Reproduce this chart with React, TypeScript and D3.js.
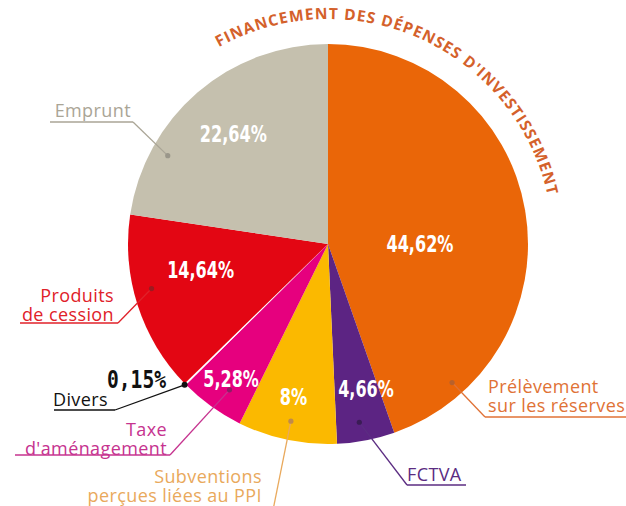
import * as d3 from 'd3';

const WIDTH = 626, HEIGHT = 506;
const CX = 328, CY = 244, RADIUS = 200;

const TITLE = "FINANCEMENT DES DÉPENSES D'INVESTISSEMENT";

const categories = [
    "Prélèvement sur les réserves",
    "FCTVA",
    "Subventions perçues liées au PPI",
    "Taxe d'aménagement",
    "Divers",
    "Produits de cession",
    "Emprunt",
];
const values = [44.62, 4.66, 8, 5.28, 0.15, 14.64, 22.64];
const valueLabels = ["44,62%", "4,66%", "8%", "5,28%", "0,15%", "14,64%", "22,64%"];

const sliceColors = ["#ea6608", "#5c2483", "#fbb900", "#e6007e", "#ffffff", "#e30613", "#c5c0ae"];
const textColors = ["#e07236", "#5b2c82", "#e9a95c", "#c6338f", "#111111", "#e02129", "#aaa596"];
const dotColors = ["#b8612c", "#3a1c55", "#c08a4a", "#8c1e66", "#111111", "#9c1a20", "#9a968a"];

// callout layout: text lines, anchor, x, first baseline, underline from/to, where the dot sits in the slice
const callouts = [
    { lines: ["Prélèvement", "sur les réserves"], anchor: "start", x: 488, y: 393, ux: [485, 626], uy: 417, t: 0.86, r: 186 },
    { lines: ["FCTVA"], anchor: "start", x: 407, y: 481, ux: [407, 466], uy: 485, t: 0.56, r: 181 },
    { lines: ["Subventions", "perçues liées au PPI"], anchor: "end", x: 262, y: 483, ux: null, uy: 520, t: 0.5, r: 181 },
    { lines: ["Taxe", "d'aménagement"], anchor: "end", x: 167, y: 436, ux: [15, 170], uy: 455, t: 0.41, r: 176 },
    { lines: ["Divers"], anchor: "end", x: 108, y: 406, ux: [54, 115], uy: 410, t: 0.5, r: 201 },
    { lines: ["Produits", "de cession"], anchor: "end", x: 114, y: 302, ux: [20, 118], uy: 323, t: 0.57, r: 182 },
    { lines: ["Emprunt"], anchor: "end", x: 131, y: 117, ux: [50, 133], uy: 122, t: 0.25, r: 183 },
];

// value label radius and angle tweak (fraction in slice)
const valuePos = [
    { r: 92, t: 0.56 }, { r: 150, t: 0.28 }, { r: 157, t: 0.53 }, { r: 166, t: 0.5 },
    null, { r: 130, t: 0.62 }, { r: 145, t: 0.5 },
];

const pie = d3.pie<number>().sort(null).value((d) => d);
const arc = d3.arc<d3.PieArcDatum<number>>().innerRadius(0).outerRadius(RADIUS);

const polar = (a: number, r: number): [number, number] => [CX + Math.sin(a) * r, CY - Math.cos(a) * r];

const pctWidth = (s: string) =>
    s.split('').reduce((w, c) => w + (c === ',' ? 5 : c === '%' ? 16 : 11.5), 0);

const App = () => {
    const slices = pie(values);

    const titleStart = (-29 * Math.PI) / 180;
    const titleEnd = (90 * Math.PI) / 180;
    const titleR = 225;
    const [sx, sy] = polar(titleStart, titleR);
    const [ex, ey] = polar(titleEnd, titleR);
    const titlePath = `M${sx},${sy} A${titleR},${titleR} 0 0 1 ${ex},${ey}`;

    return (
        <svg width={WIDTH} height={HEIGHT} style={{ position: 'absolute', left: 0, top: 0 }}>
            <defs>
                <path id="titleArc" d={titlePath} fill="none" />
            </defs>
            <g transform={`translate(${CX},${CY})`}>
                {slices.map((s, i) => (
                    <path key={i} d={arc(s) || ''} fill={sliceColors[i]} />
                ))}
            </g>

            <text fontFamily="'Open Sans', sans-serif" fontWeight={700} fontSize={15.5} fill="#d4612b">
                <textPath href="#titleArc" textLength={418} lengthAdjust="spacing">{TITLE}</textPath>
            </text>

            {slices.map((s, i) => {
                const c = callouts[i];
                const a = s.startAngle + (s.endAngle - s.startAngle) * c.t;
                const [dx, dy] = polar(a, c.r);
                const elbowX = c.ux ? (c.anchor === 'end' ? c.ux[1] : c.ux[0]) : 271;
                return (
                    <g key={categories[i]}>
                        {c.ux && <line x1={c.ux[0]} x2={c.ux[1]} y1={c.uy} y2={c.uy} stroke={textColors[i]} strokeWidth={1.3} />}
                        <line x1={elbowX} y1={c.uy} x2={dx} y2={dy} stroke={textColors[i]} strokeWidth={1.3} />
                        <circle cx={dx} cy={dy} r={i === 4 ? 3 : 2.6} fill={dotColors[i]} />
                        <text x={c.x} y={c.y} textAnchor={c.anchor} fontFamily="'Open Sans', sans-serif"
                            fontSize={18} letterSpacing={0.4} fill={textColors[i]}>
                            {c.lines.map((l, j) => (
                                <tspan key={j} x={c.x} dy={j === 0 ? 0 : 19}>{l}</tspan>
                            ))}
                        </text>
                    </g>
                );
            })}

            {slices.map((s, i) => {
                const p = valuePos[i];
                if (!p) return null;
                const a = s.startAngle + (s.endAngle - s.startAngle) * p.t;
                const [x, y] = polar(a, p.r);
                const lbl = valueLabels[i];
                return (
                    <text key={lbl} x={x} y={y} dy="0.36em" textAnchor="middle"
                        fontFamily="'DejaVu Sans Condensed', 'DejaVu Sans', sans-serif" fontWeight={700}
                        fontSize={23} fill="#ffffff" textLength={pctWidth(lbl)} lengthAdjust="spacingAndGlyphs">
                        {lbl}
                    </text>
                );
            })}

            <text x={107} y={388} fontFamily="'DejaVu Sans Mono', monospace" fontWeight={700}
                fontSize={24} fill="#111111" textLength={59} lengthAdjust="spacingAndGlyphs">
                {valueLabels[4]}
            </text>
        </svg>
    );
};

export default App;
